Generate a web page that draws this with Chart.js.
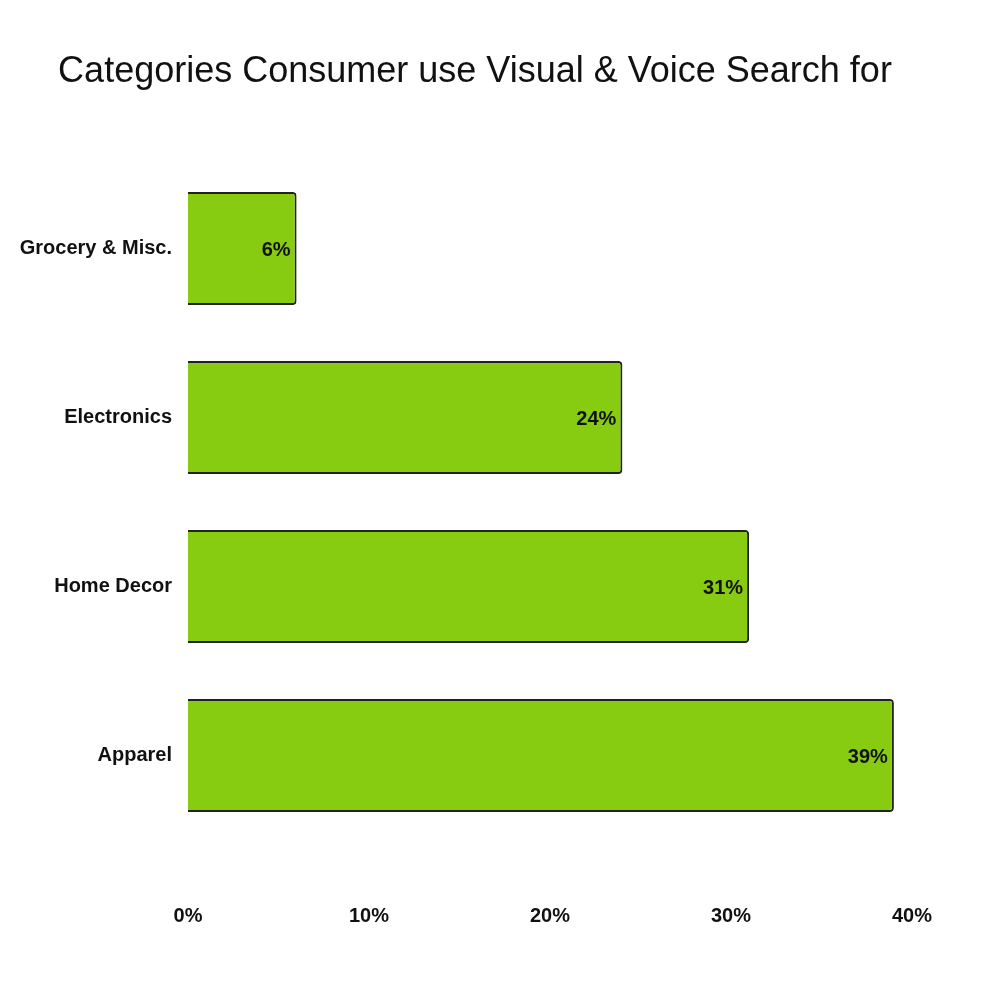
<!DOCTYPE html>
<html><head><style>html,body{margin:0;background:#fff}#c{width:1000px;height:1000px}</style>
<script src="https://cdn.jsdelivr.net/npm/chart.js@4"></script></head>
<body><canvas id="c" width="1000" height="1000"></canvas>
<script>
var categories = ["Grocery & Misc.", "Electronics", "Home Decor", "Apparel"];
var shares = [6, 24, 31, 39];
var fontName = "'Liberation Sans Narrow', 'Liberation Sans', Arial, sans-serif";

// title and value labels drawn by hand
var extras = {
  id: "extras",
  afterDatasetsDraw: function(chart) {
    var c = chart.ctx;
    c.save();
    c.fillStyle = "#111";
    c.font = "36px " + fontName;
    c.textAlign = "center";
    c.textBaseline = "middle";
    c.fillText("Categories Consumer use Visual & Voice Search for", 475, 72);
    c.font = "bold 20px " + fontName;
    c.textAlign = "right";
    chart.getDatasetMeta(0).data.forEach(function(bar, i) {
      c.fillText(shares[i] + "%", bar.x - 6, bar.y + 2);
    });
    c.restore();
  }
};

new Chart(document.getElementById("c"), {
  type: "bar",
  data: {
    labels: categories,
    datasets: [{
      data: shares,
      backgroundColor: "#88cc11",
      borderColor: "#222",
      borderWidth: 2,
      borderSkipped: "start",
      borderRadius: 4,
      categoryPercentage: 0.67,
      barPercentage: 1
    }]
  },
  options: {
    indexAxis: "y",
    responsive: false,
    animation: false,
    layout: { padding: { top: 164, right: 88, left: 0, bottom: 0 } },
    plugins: { legend: { display: false }, tooltip: { enabled: false } },
    scales: {
      x: {
        min: 0, max: 40,
        ticks: { stepSize: 10, padding: 56, color: "#111", font: { family: fontName, size: 20, weight: "bold" },
          callback: function(v) { return v + "%"; } },
        grid: { display: false }, border: { display: false },
        afterFit: function(s) { s.height = 160; }
      },
      y: {
        ticks: { color: "#111", padding: 8, font: { family: fontName, size: 20, weight: "bold" } },
        grid: { display: false }, border: { display: false },
        afterFit: function(s) { s.width = 188; }
      }
    }
  },
  plugins: [extras]
});
</script></body></html>
